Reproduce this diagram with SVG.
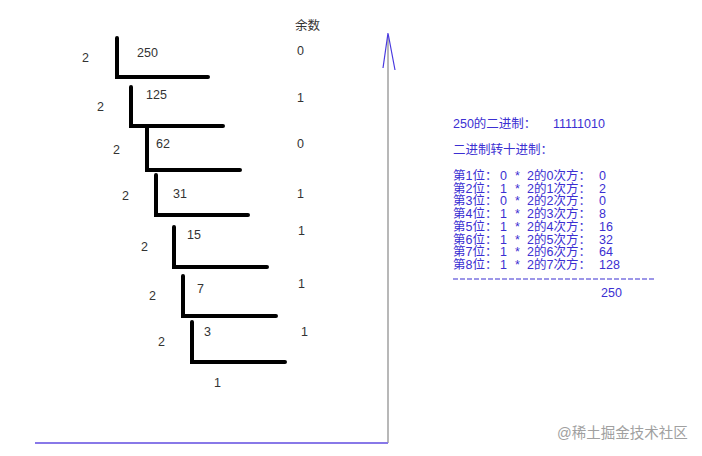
<svg xmlns="http://www.w3.org/2000/svg" width="702" height="456" viewBox="0 0 702 456">
<style>
.bar{fill:none;stroke:#000;stroke-width:4;stroke-linecap:round;stroke-linejoin:miter}
.t{font-family:"Liberation Sans","Noto Sans CJK SC",sans-serif;font-size:12.5px;fill:#333}
.b{font-family:"Liberation Sans","Noto Sans CJK SC",sans-serif;font-size:12.5px;fill:#3b2fd2}
.wm{font-family:"Liberation Sans","Noto Sans CJK SC",sans-serif;font-size:14.5px;fill:#a0a0a0}
</style>
<rect width="702" height="456" fill="#fff"/>
<g id="connectors">
<line x1="388" y1="35" x2="388" y2="443" stroke="#a0a0a0" stroke-width="1.5"/>
<line x1="35" y1="443" x2="388" y2="443" stroke="#8878e8" stroke-width="2"/>
<polyline points="383,68 388,33 395,70" fill="none" stroke="#4a3ae0" stroke-width="1.2"/>
</g>
<g id="header"><text class="t" x="295" y="30">余数</text></g>
<g id="step1">
<path class="bar" d="M117,38 V77 H208"/>
<text class="t" x="82" y="62">2</text><text class="t" x="137" y="57">250</text><text class="t" x="297" y="55">0</text>
</g>
<g id="step2">
<path class="bar" d="M131,87 V126 H223"/>
<text class="t" x="97" y="111">2</text><text class="t" x="146" y="99">125</text><text class="t" x="297" y="102">1</text>
</g>
<g id="step3">
<path class="bar" d="M147,128 V170 H240"/>
<text class="t" x="113" y="154">2</text><text class="t" x="156" y="148">62</text><text class="t" x="297" y="148">0</text>
</g>
<g id="step4">
<path class="bar" d="M156,175 V215 H248"/>
<text class="t" x="122" y="200">2</text><text class="t" x="173" y="198">31</text><text class="t" x="297" y="198">1</text>
</g>
<g id="step5">
<path class="bar" d="M174,227 V267 H267"/>
<text class="t" x="141" y="251">2</text><text class="t" x="187" y="239">15</text><text class="t" x="298" y="235">1</text>
</g>
<g id="step6">
<path class="bar" d="M183,276 V316 H276"/>
<text class="t" x="149" y="300">2</text><text class="t" x="197" y="293">7</text><text class="t" x="298" y="288">1</text>
</g>
<g id="step7">
<path class="bar" d="M192,322 V362 H285"/>
<text class="t" x="158" y="346">2</text><text class="t" x="204" y="336">3</text><text class="t" x="301" y="336">1</text>
</g>
<g id="last"><text class="t" x="214" y="387">1</text></g>
<g id="result">
<text class="b" x="453" y="128">250的二进制：</text><text class="b" x="553" y="128">11111010</text>
<text class="b" x="453" y="154">二进制转十进制：</text>
</g>
<g id="rows">
<text class="b" x="453" y="180">第1位：</text><text class="b" x="500" y="180">0</text><text class="b" x="515" y="180">*</text><text class="b" x="527" y="180">2的0次方：</text><text class="b" x="599" y="180">0</text>
<text class="b" x="453" y="192.7">第2位：</text><text class="b" x="500" y="192.7">1</text><text class="b" x="515" y="192.7">*</text><text class="b" x="527" y="192.7">2的1次方：</text><text class="b" x="599" y="192.7">2</text>
<text class="b" x="453" y="205.4">第3位：</text><text class="b" x="500" y="205.4">0</text><text class="b" x="515" y="205.4">*</text><text class="b" x="527" y="205.4">2的2次方：</text><text class="b" x="599" y="205.4">0</text>
<text class="b" x="453" y="218.1">第4位：</text><text class="b" x="500" y="218.1">1</text><text class="b" x="515" y="218.1">*</text><text class="b" x="527" y="218.1">2的3次方：</text><text class="b" x="599" y="218.1">8</text>
<text class="b" x="453" y="230.8">第5位：</text><text class="b" x="500" y="230.8">1</text><text class="b" x="515" y="230.8">*</text><text class="b" x="527" y="230.8">2的4次方：</text><text class="b" x="599" y="230.8">16</text>
<text class="b" x="453" y="243.5">第6位：</text><text class="b" x="500" y="243.5">1</text><text class="b" x="515" y="243.5">*</text><text class="b" x="527" y="243.5">2的5次方：</text><text class="b" x="599" y="243.5">32</text>
<text class="b" x="453" y="256.2">第7位：</text><text class="b" x="500" y="256.2">1</text><text class="b" x="515" y="256.2">*</text><text class="b" x="527" y="256.2">2的6次方：</text><text class="b" x="599" y="256.2">64</text>
<text class="b" x="453" y="268.9">第8位：</text><text class="b" x="500" y="268.9">1</text><text class="b" x="515" y="268.9">*</text><text class="b" x="527" y="268.9">2的7次方：</text><text class="b" x="599" y="268.9">128</text>
<line x1="453" y1="279" x2="654" y2="279" stroke="#3b2fd2" stroke-width="1.2" stroke-dasharray="5,2"/>
<text class="b" x="601" y="297">250</text>
</g>
<text class="wm" x="557" y="438">@稀土掘金技术社区</text>
</svg>
